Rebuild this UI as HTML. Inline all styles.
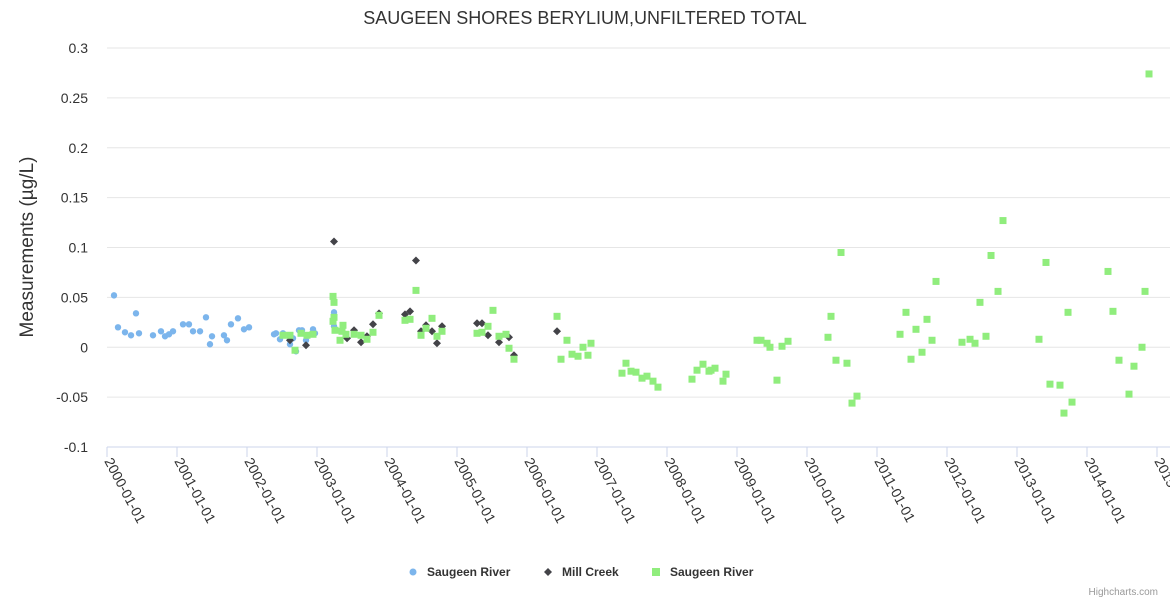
<!DOCTYPE html>
<html><head><meta charset="utf-8"><style>
body{margin:0;background:#fff;font-family:"Liberation Sans",sans-serif}
svg{display:block}
</style></head><body>
<svg id="chart" width="1170" height="600" xmlns="http://www.w3.org/2000/svg">
<text x="585" y="24" text-anchor="middle" font-size="18" fill="#333">SAUGEEN SHORES BERYLIUM,UNFILTERED TOTAL</text>
<text transform="translate(33,247) rotate(-90)" text-anchor="middle" font-size="19" fill="#333">Measurements (µg/L)</text>
<g id="grid"></g><g id="xaxis"></g><g id="yaxis"></g><g id="series"></g>
<g font-size="12" font-weight="bold" fill="#333">
<g><circle cx="413" cy="572" r="3.5" fill="#7cb5ec"/><text x="427" y="576">Saugeen River</text></g>
<g><path d="M548 568 L552 572 L548 576 L544 572Z" fill="#434348"/><text x="562" y="576">Mill Creek</text></g>
<g><rect x="652" y="568" width="8" height="8" fill="#90ed7d"/><text x="670" y="576">Saugeen River</text></g>
</g>
<text x="1158" y="595" text-anchor="end" font-size="10" fill="#999">Highcharts.com</text>
</svg>
<script>
const yTicks=[-0.1,-0.05,0,0.05,0.1,0.15,0.2,0.25,0.3];
const yTickLabels=["-0.1","-0.05","0","0.05","0.1","0.15","0.2","0.25","0.3"];
const xYears=[2000,2001,2002,2003,2004,2005,2006,2007,2008,2009,2010,2011,2012,2013,2014,2015];
const blueX=[0.10,0.157,0.257,0.343,0.414,0.457,0.657,0.771,0.829,0.886,0.943,1.086,1.171,1.229,1.329,1.414,1.471,1.5,1.671,1.714,1.771,1.871,1.957,2.029,2.386,2.414,2.471,2.514,2.614,2.657,2.7,2.743,2.786,2.843,2.943,2.971,3.243,3.243];
const blueY=[0.052,0.020,0.015,0.012,0.034,0.014,0.012,0.016,0.011,0.013,0.016,0.023,0.023,0.016,0.016,0.030,0.003,0.011,0.012,0.007,0.023,0.029,0.018,0.020,0.013,0.014,0.008,0.014,0.003,0.009,-0.004,0.017,0.017,0.007,0.018,0.014,0.035,0.021];
const millX=[2.614,2.843,3.243,3.429,3.529,3.629,3.714,3.8,3.886,4.257,4.329,4.414,4.486,4.557,4.643,4.714,4.786,5.286,5.357,5.443,5.6,5.743,5.814,6.429];
const millY=[0.007,0.002,0.106,0.009,0.017,0.005,0.011,0.023,0.034,0.033,0.036,0.087,0.016,0.022,0.016,0.004,0.021,0.024,0.024,0.012,0.005,0.010,-0.008,0.016];
const greenX=[2.514,2.614,2.686,2.771,2.857,2.943,3.229,3.243,3.229,3.243,3.257,3.329,3.371,3.357,3.414,3.529,3.629,3.714,3.8,3.886,4.257,4.329,4.414,4.486,4.557,4.643,4.714,4.786,5.286,5.357,5.443,5.514,5.6,5.7,5.743,5.814,6.429,6.486,6.571,6.643,6.729,6.8,6.871,6.914,7.357,7.414,7.486,7.557,7.643,7.714,7.8,7.871,8.357,8.429,8.514,8.6,8.629,8.686,8.8,8.843,9.286,9.343,9.429,9.471,9.571,9.643,9.729,10.3,10.343,10.414,10.486,10.571,10.643,10.714,11.329,11.414,11.486,11.557,11.643,11.714,11.786,11.843,12.214,12.329,12.4,12.471,12.557,12.629,12.729,12.8,13.314,13.414,13.471,13.614,13.671,13.729,13.786,14.3,14.371,14.457,14.6,14.671,14.786,14.829,14.886];
const greenY=[0.012,0.012,-0.003,0.014,0.012,0.013,0.051,0.045,0.026,0.030,0.017,0.007,0.022,0.016,0.013,0.013,0.012,0.008,0.015,0.032,0.027,0.028,0.057,0.012,0.019,0.029,0.011,0.016,0.014,0.015,0.021,0.037,0.011,0.013,-0.001,-0.012,0.031,-0.012,0.007,-0.007,-0.009,0.0,-0.008,0.004,-0.026,-0.016,-0.024,-0.025,-0.031,-0.029,-0.034,-0.040,-0.032,-0.023,-0.017,-0.024,-0.023,-0.021,-0.034,-0.027,0.007,0.007,0.004,0.0,-0.033,0.001,0.006,0.010,0.031,-0.013,0.095,-0.016,-0.056,-0.049,0.013,0.035,-0.012,0.018,-0.005,0.028,0.007,0.066,0.005,0.008,0.004,0.045,0.011,0.092,0.056,0.127,0.008,0.085,-0.037,-0.038,-0.066,0.035,-0.055,0.076,0.036,-0.013,-0.047,-0.019,0.0,0.056,0.274];
const NS="http://www.w3.org/2000/svg";
const X0=107,X1=1157,Y0=447,Y1=48;
function xs(t){return X0+(t)/15*(X1-X0);}
function ys(v){return Y0-(v+0.1)/0.4*(Y0-Y1);}
function mk(tag,attrs,parent){const e=document.createElementNS(NS,tag);for(const k in attrs)e.setAttribute(k,attrs[k]);parent.appendChild(e);return e;}
const grid=document.getElementById('grid'),ya=document.getElementById('yaxis'),xa=document.getElementById('xaxis'),se=document.getElementById('series');
yTicks.forEach((v,i)=>{
  const l=mk('line',{x1:X0,x2:1170,y1:ys(v),y2:ys(v),stroke:i==0?'#ccd6eb':'#e6e6e6','stroke-width':1},grid);
  
  
  const t=mk('text',{x:88,y:ys(v)+5,'text-anchor':'end','font-size':14,fill:'#333'},ya);
  t.textContent=yTickLabels[i];
  
  
});
xYears.forEach((yr,i)=>{
  const x=xs(yr-2000);
  const tk=mk('line',{x1:x,x2:x,y1:Y0,y2:Y0+10,stroke:'#ccd6eb'},xa);
  
  
  const t=mk('text',{transform:`translate(${x-3},${Y0+14}) rotate(62)`,'font-size':14,fill:'#333'},xa);
  t.textContent=yr+'-01-01';
  
  
});
blueX.forEach((t,i)=>{
  const c=mk('circle',{cx:xs(t),cy:ys(blueY[i]),r:3.2,fill:'#7cb5ec'},se);
  
  
});
millX.forEach((t,i)=>{
  const x=xs(t),y=ys(millY[i]);
  const p=mk('path',{d:`M${x} ${y-4} L${x+4} ${y} L${x} ${y+4} L${x-4} ${y}Z`,fill:'#434348'},se);
  
  
});
greenX.forEach((t,i)=>{
  const r=mk('rect',{x:xs(t)-3.5,y:ys(greenY[i])-3.5,width:7,height:7,fill:'#90ed7d'},se);
  
  
});
</script>
</body></html>
